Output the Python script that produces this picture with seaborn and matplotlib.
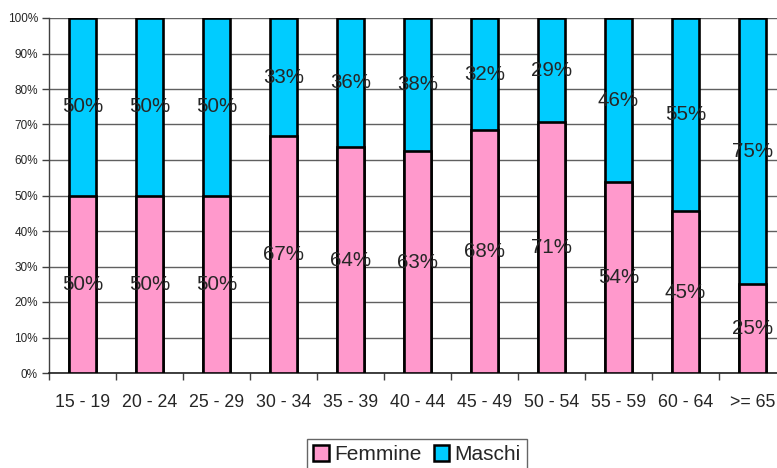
import numpy as np
import pandas as pd
import matplotlib
matplotlib.use("Agg")
import matplotlib.pyplot as plt
import seaborn as sns
from matplotlib.patches import Patch

classi = ["15 - 19", "20 - 24", "25 - 29", "30 - 34", "35 - 39", "40 - 44",
          "45 - 49", "50 - 54", "55 - 59", "60 - 64", ">= 65"]
femmine = [50, 50, 50, 66.7, 63.6, 62.5, 68.4, 70.6, 53.8, 45.5, 25]
maschi = [50, 50, 50, 33.3, 36.4, 37.5, 31.6, 29.4, 46.2, 54.5, 75]
etichette_f = ["50%", "50%", "50%", "67%", "64%", "63%", "68%", "71%", "54%", "45%", "25%"]
etichette_m = ["50%", "50%", "50%", "33%", "36%", "38%", "32%", "29%", "46%", "55%", "75%"]

rosa = "#FF99CC"
azzurro = "#00CCFF"

df = pd.DataFrame({"Classe": classi, "Femmine": femmine, "Maschi": maschi})
df["Totale"] = df["Femmine"] + df["Maschi"]

sns.set_theme(style="white")
plt.rcParams["font.family"] = ["Liberation Sans", "DejaVu Sans"]

fig = plt.figure(figsize=(7.77, 4.68), dpi=100)
ax = fig.add_axes([49 / 777, 1 - 373 / 468, 737 / 777, 355 / 468])

sns.barplot(x="Classe", y="Totale", data=df, color=azzurro, width=0.4,
            edgecolor="black", linewidth=1.9, saturation=1, ax=ax, zorder=3)
sns.barplot(x="Classe", y="Femmine", data=df, color=rosa, width=0.4,
            edgecolor="black", linewidth=1.9, saturation=1, ax=ax, zorder=3)

for i in range(len(df)):
    f = df["Femmine"][i]
    m = df["Maschi"][i]
    ax.text(i, f / 2, etichette_f[i], ha="center", va="center", fontsize=14.8, zorder=5)
    ax.text(i, f + m / 2, etichette_m[i], ha="center", va="center", fontsize=14.8, zorder=5)

ax.set_ylim(0, 100)
ax.set_xlim(-0.5, len(df) - 0.5)
ax.set_yticks(np.arange(0, 101, 10))
ax.set_yticklabels([f"{v}%" for v in range(0, 101, 10)], fontsize=8.5)
ax.set_xticks(range(len(df)))
ax.set_xticklabels(classi, fontsize=12.8)
ax.set_xticks(np.arange(-0.5, len(df), 1), minor=True)
ax.tick_params(axis="x", which="major", length=0, pad=15)
ax.tick_params(axis="x", which="minor", length=5, width=1, color="#404040", direction="out", bottom=True)
ax.tick_params(axis="y", length=5, width=1, color="#404040", direction="out", left=True, pad=3)
ax.set_xlabel("")
ax.set_ylabel("")

ax.grid(axis="y", color="#606060", linewidth=1, zorder=0)
ax.set_axisbelow(True)
for s in ["top", "right"]:
    ax.spines[s].set_visible(False)
ax.spines["left"].set_color("#404040")
ax.spines["bottom"].set_color("#202020")
ax.spines["left"].set_linewidth(1)
ax.spines["bottom"].set_linewidth(1.2)

maniglie = [Patch(facecolor=rosa, edgecolor="black", linewidth=1.8, label="Femmine"),
            Patch(facecolor=azzurro, edgecolor="black", linewidth=1.8, label="Maschi")]
leg = fig.legend(handles=maniglie, loc="upper center", bbox_to_anchor=(417 / 777, 1 - 439 / 468),
                 ncol=2, fontsize=15, frameon=True, fancybox=False, handlelength=0.75,
                 handleheight=0.75, handletextpad=0.25, columnspacing=0.6,
                 borderpad=0.3, borderaxespad=0)
leg.get_frame().set_edgecolor("#404040")
leg.get_frame().set_linewidth(1)

fig.savefig("out.png", dpi=100)
